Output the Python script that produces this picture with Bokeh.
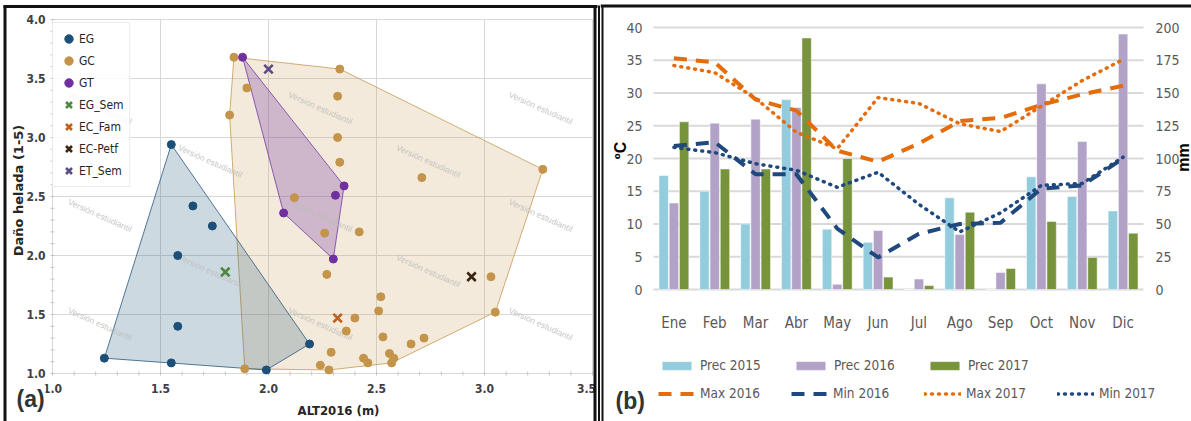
import numpy as np
from bokeh.plotting import figure
from bokeh.models import Range1d, Legend, LegendItem, Label, ColumnDataSource
from bokeh.layouts import row
from bokeh.embed import file_html
from bokeh.resources import INLINE
from bokeh.core.properties import value

COND = "DejaVu Sans Condensed"

# ---------------- Panel (a) data ----------------
eg_x = [1.24, 1.55, 1.99, 1.58, 1.58, 1.74, 1.65, 1.55, 2.19]
eg_y = [1.13, 1.09, 1.03, 1.40, 2.00, 2.25, 2.42, 2.94, 1.25]
gc_x = [1.84, 1.90, 1.82, 2.33, 2.32, 2.32, 2.33, 2.71, 3.27, 2.12, 2.26, 2.42,
        2.27, 2.52, 2.51, 2.40, 2.36, 2.53, 2.66, 2.72, 2.29, 2.44, 2.46, 2.56,
        2.58, 2.57, 2.24, 2.28, 3.03, 3.05, 1.89]
gc_y = [3.68, 3.42, 3.19, 3.58, 3.35, 3.00, 2.79, 2.66, 2.73, 2.49, 2.19, 2.20,
        1.84, 1.65, 1.53, 1.47, 1.36, 1.31, 1.25, 1.30, 1.18, 1.13, 1.09, 1.17,
        1.13, 1.09, 1.07, 1.03, 1.82, 1.52, 1.04]
gt_x = [1.88, 2.35, 2.31, 2.07, 2.30]
gt_y = [3.68, 2.59, 2.51, 2.36, 1.97]
sem_names = ["EG_Sem", "EC_Fam", "EC-Petf", "ET_Sem"]
sem_x = [1.80, 2.32, 2.94, 2.00]
sem_y = [1.86, 1.47, 1.82, 3.58]
x_ticks_a = [1.0, 1.5, 2.0, 2.5, 3.0, 3.5]
y_ticks_a = [1.0, 1.5, 2.0, 2.5, 3.0, 3.5, 4.0]
x_minor_a = [round(1.0 + 0.1 * i, 2) for i in range(26)]
y_minor_a = [round(1.0 + 0.1 * i, 2) for i in range(31)]
wm_x = [1.22, 2.24, 3.26, 1.73, 2.74, 1.22, 2.24, 3.26, 1.73, 2.74, 1.22, 2.24, 3.26]
wm_y = [3.25, 3.25, 3.25, 2.80, 2.80, 2.34, 2.34, 2.34, 1.87, 1.87, 1.42, 1.42, 1.42]

# ---------------- Panel (b) data ----------------
months = ["Ene", "Feb", "Mar", "Abr", "May", "Jun", "Jul", "Ago", "Sep", "Oct", "Nov", "Dic"]
prec2015 = [87, 75, 50, 145, 46, 36, 0, 70, 0, 86, 71, 60]
prec2016 = [66, 127, 130, 139, 4, 45, 8, 42, 13, 157, 113, 195]
prec2017 = [128, 92, 92, 192, 100, 9.5, 3, 59, 16, 52, 24.5, 43]
max2016 = [35.3, 34.7, 29.0, 27.3, 21.2, 19.5, 22.3, 25.7, 26.2, 28.2, 29.8, 31.1]
min2016 = [21.9, 22.5, 17.6, 17.6, 9.3, 4.9, 8.5, 10.0, 10.2, 15.4, 15.9, 20.0]
max2017 = [34.2, 33.1, 29.2, 24.0, 21.5, 29.3, 28.4, 25.3, 24.1, 28.0, 31.9, 35.1]
min2017 = [21.7, 20.9, 19.2, 18.2, 15.6, 17.9, 13.0, 8.8, 11.7, 15.9, 16.2, 20.2]
c_ticks = [0, 5, 10, 15, 20, 25, 30, 35, 40]
mm_ticks = [0, 25, 50, 75, 100, 125, 150, 175, 200]


def convex_hull(xs, ys):
    pts = sorted(set(zip(xs, ys)))

    def cross(o, a, b):
        return (a[0] - o[0]) * (b[1] - o[1]) - (a[1] - o[1]) * (b[0] - o[0])
    lower, upper = [], []
    for p in pts:
        while len(lower) >= 2 and cross(lower[-2], lower[-1], p) <= 0:
            lower.pop()
        lower.append(p)
    for p in reversed(pts):
        while len(upper) >= 2 and cross(upper[-2], upper[-1], p) <= 0:
            upper.pop()
        upper.append(p)
    h = lower[:-1] + upper[:-1]
    return [p[0] for p in h], [p[1] for p in h]


H = 421
# ================= Panel (a) =================
W1 = 600
A_LEFT, A_BOTTOM, A_PPX, A_PPY = 52, 373, 216.0, 118.0


def ax(px):
    return 1.0 + (px - A_LEFT) / A_PPX


def ay(py):
    return 1.0 + (A_BOTTOM - py) / A_PPY


p1 = figure(width=W1, height=H, x_range=Range1d(ax(0), ax(W1)), y_range=Range1d(ay(H), ay(0)),
            x_axis_type=None, y_axis_type=None, output_backend="svg", toolbar_location=None,
            min_border=0)
p1.outline_line_color = None
p1.grid.visible = False

xmin, xmax, ymin, ymax = x_ticks_a[0], x_ticks_a[-1], y_ticks_a[0], y_ticks_a[-1]
GRID_A = "#d6d9dc"
p1.segment(x0=x_ticks_a, y0=[ymin] * len(x_ticks_a), x1=x_ticks_a, y1=[ymax] * len(x_ticks_a),
           line_color=GRID_A, line_width=1)
p1.segment(x0=[xmin] * len(y_ticks_a), y0=y_ticks_a, x1=[xmax] * len(y_ticks_a), y1=y_ticks_a,
           line_color=GRID_A, line_width=1)
p1.segment(x0=x_minor_a, y0=[ymin - 2 / A_PPY] * len(x_minor_a), x1=x_minor_a,
           y1=[ymin + 2 / A_PPY] * len(x_minor_a), line_color="#c4c4c4", line_width=1)
p1.segment(x0=[xmin - 2 / A_PPX] * len(y_minor_a), y0=y_minor_a,
           x1=[xmin + 2 / A_PPX] * len(y_minor_a), y1=y_minor_a, line_color="#c4c4c4", line_width=1)

C_EG, C_GC, C_GT = "#1d5078", "#c4944a", "#7030a0"
for xs, ys, c, a in [(gc_x, gc_y, C_GC, 0.2), (eg_x, eg_y, C_EG, 0.22), (gt_x, gt_y, C_GT, 0.28)]:
    hx, hy = convex_hull(xs, ys)
    p1.patch(hx, hy, fill_color=c, fill_alpha=a, line_color=c, line_alpha=0.75, line_width=1)

p1.text(x=wm_x, y=wm_y, text=["Versión estudiantil"] * len(wm_x), angle=-0.42,
        text_font=value("Liberation Sans"), text_font_size="8.5px", text_color="#bdbdbd",
        text_alpha=0.9, text_align="center", text_baseline="middle")

r_gc = p1.scatter(gc_x, gc_y, size=8, color=C_GC)
r_eg = p1.scatter(eg_x, eg_y, size=8, color=C_EG)
r_gt = p1.scatter(gt_x, gt_y, size=8, color=C_GT)
sem_colors = ["#4e8a3e", "#c0601a", "#3a2410", "#5e4a85"]
r_sem = [p1.scatter([sem_x[i]], [sem_y[i]], marker="x", size=12, line_width=2.6,
                    color=sem_colors[i]) for i in range(len(sem_names))]

# axis texts (a)
x_off = [0, 0, 0, 0, 0, -6]
p1.text(x=x_ticks_a, y=[ay(388)] * len(x_ticks_a), text=[f"{t:.1f}" for t in x_ticks_a],
        x_offset=x_off, text_font=value(COND), text_font_size="12px", text_font_style="bold",
        text_color="#404040", text_align="center", text_baseline="middle")
p1.text(x=[ax(45)] * len(y_ticks_a), y=y_ticks_a, text=[f"{t:.1f}" for t in y_ticks_a],
        text_font=value(COND), text_font_size="12px", text_font_style="bold",
        text_color="#404040", text_align="right", text_baseline="middle")
p1.text(x=[ax(338)], y=[ay(410)], text=["ALT2016 (m)"], text_font=value(COND),
        text_font_size="13px", text_font_style="bold", text_color="#262626",
        text_align="center", text_baseline="middle")
p1.text(x=[ax(18)], y=[ay(190)], text=["Daño helada (1-5)"], angle=np.pi / 2,
        text_font=value("DejaVu Sans"), text_font_size="13px", text_font_style="bold",
        text_color="#262626", text_align="center", text_baseline="middle")

items_a = [LegendItem(label="EG", renderers=[r_eg]), LegendItem(label="GC", renderers=[r_gc]),
           LegendItem(label="GT", renderers=[r_gt])]
items_a += [LegendItem(label=nm, renderers=[r]) for nm, r in zip(sem_names, r_sem)]
leg_a = Legend(items=items_a, location=(52, 234), orientation="vertical",
               glyph_width=21, glyph_height=21, label_height=21, spacing=1, padding=5,
               margin=0, label_standoff=0, label_text_font=COND, label_text_font_size="12px",
               label_text_color="#262626", border_line_color="#d9d9d9", border_line_width=1.5,
               background_fill_color="white", background_fill_alpha=0.85)
p1.add_layout(leg_a)

p1.add_layout(Label(x=ax(15), y=ay(398), text="(a)", text_font="Liberation Sans",
                    text_font_size="23px", text_font_style="bold", text_color="#333333",
                    text_baseline="middle", text_align="left",
                    background_fill_color="white", padding=1))

# panel frame lines (left, top, right, and the first line of the double divider)
p1.segment(x0=[ax(4.5), ax(3), ax(594.5), ax(598.5)], y0=[ay(H + 5), ay(6), ay(5), ay(5)],
           x1=[ax(4.5), ax(597), ax(594.5), ax(598.5)], y1=[ay(5), ay(6), ay(H + 5), ay(H + 5)],
           line_color="#111111", line_width=[3, 3, 3, 2])

# ================= Panel (b) =================
W2 = 591
B_LEFT, B_BOTTOM, B_PPX, B_PPY = 53, 289, 490 / 12.0, 6.55
MM = 5.0  # mm per degree on the secondary axis


def bx(px):
    return (px - B_LEFT) / B_PPX


def by(py):
    return (B_BOTTOM - py) / B_PPY


p2 = figure(width=W2, height=H, x_range=Range1d(bx(0), bx(W2)), y_range=Range1d(by(H), by(0)),
            x_axis_type=None, y_axis_type=None, output_backend="svg", toolbar_location=None,
            min_border=0)
p2.extra_y_ranges = {"mm": Range1d(by(H) * MM, by(0) * MM)}
p2.outline_line_color = None
p2.grid.visible = False

mx = [i + 0.5 for i in range(len(months))]
p2.segment(x0=[0] * len(c_ticks), y0=c_ticks, x1=[len(months)] * len(c_ticks), y1=c_ticks,
           line_color="#d9d9d9", line_width=2)

src = ColumnDataSource(dict(x15=[m - 0.25 for m in mx], x16=mx, x17=[m + 0.25 for m in mx],
                            x=mx, p15=prec2015, p16=prec2016, p17=prec2017,
                            mx16=max2016, mn16=min2016, mx17=max2017, mn17=min2017))
r15 = p2.vbar(x="x15", top="p15", bottom=0, width=0.23, source=src, y_range_name="mm",
              fill_color="#93cddd", line_color="white", line_width=0.5)
r16 = p2.vbar(x="x16", top="p16", bottom=0, width=0.23, source=src, y_range_name="mm",
              fill_color="#b3a2c7", line_color="white", line_width=0.5)
r17 = p2.vbar(x="x17", top="p17", bottom=0, width=0.23, source=src, y_range_name="mm",
              fill_color="#77933c", line_color="white", line_width=0.5)

ORANGE, NAVY = "#e46c0a", "#1f497d"
lx16 = p2.line(x="x", y="mx16", source=src, line_color=ORANGE, line_width=4, line_dash="13 9")
ln16 = p2.line(x="x", y="mn16", source=src, line_color=NAVY, line_width=4, line_dash="13 9")
lx17 = p2.line(x="x", y="mx17", source=src, line_color=ORANGE, line_width=3.5,
               line_dash="1 6", line_cap="round")
ln17 = p2.line(x="x", y="mn17", source=src, line_color=NAVY, line_width=3.5,
               line_dash="1 6", line_cap="round")

TXT = "#595959"
p2.text(x=mx, y=[by(322)] * len(mx), text=months, text_font=value(COND), text_font_size="15px",
        text_color=TXT, text_align="center", text_baseline="middle")
p2.text(x=[bx(42)] * len(c_ticks), y=c_ticks, text=[str(t) for t in c_ticks],
        text_font=value(COND), text_font_size="14px", text_color=TXT,
        text_align="right", text_baseline="middle")
p2.text(x=[bx(555)] * len(mm_ticks), y=mm_ticks, text=[str(t) for t in mm_ticks],
        y_range_name="mm", text_font=value(COND), text_font_size="14px", text_color=TXT,
        text_align="left", text_baseline="middle")
p2.text(x=[bx(20)], y=[by(150)], text=["ºC"], angle=np.pi / 2, text_font=value("Liberation Sans"),
        text_font_size="16px", text_font_style="bold", text_color="#000000",
        text_align="center", text_baseline="middle")
p2.text(x=[bx(583)], y=[by(157)], text=["mm"], angle=np.pi / 2, text_font=value("Liberation Sans"),
        text_font_size="16px", text_font_style="bold", text_color="#000000",
        text_align="center", text_baseline="middle")
p2.text(x=[bx(15)], y=[by(400)], text=["(b)"], text_font=value("Liberation Sans"),
        text_font_size="23px", text_font_style="bold", text_color="#333333",
        text_align="left", text_baseline="middle")

leg_common = dict(orientation="horizontal", glyph_width=37, glyph_height=11, label_height=20,
                  spacing=0, padding=0, margin=0, label_standoff=5,
                  label_text_font=COND, label_text_font_size="13.5px",
                  label_text_color=TXT, border_line_color=None, background_fill_alpha=0)
leg_b1 = Legend(items=[LegendItem(label="Prec 2015", renderers=[r15]),
                       LegendItem(label="Prec 2016", renderers=[r16]),
                       LegendItem(label="Prec 2017", renderers=[r17])],
                location=(58, 46), label_width=92, **leg_common)
leg_b2 = Legend(items=[LegendItem(label="Max 2016", renderers=[lx16]),
                       LegendItem(label="Min 2016", renderers=[ln16]),
                       LegendItem(label="Max 2017", renderers=[lx17]),
                       LegendItem(label="Min 2017", renderers=[ln17])],
                location=(58, 18), label_width=91, **leg_common)
p2.add_layout(leg_b1)
p2.add_layout(leg_b2)

# panel frame lines (second divider line, top)
p2.segment(x0=[bx(2), bx(0)], y0=[by(H + 5), by(5.5)], x1=[bx(2), bx(W2 + 5)], y1=[by(5), by(5.5)],
           line_color="#111111", line_width=[2, 3])

layout = row(p1, p2, spacing=0)
open("out.html", "w").write(file_html(layout, INLINE))
